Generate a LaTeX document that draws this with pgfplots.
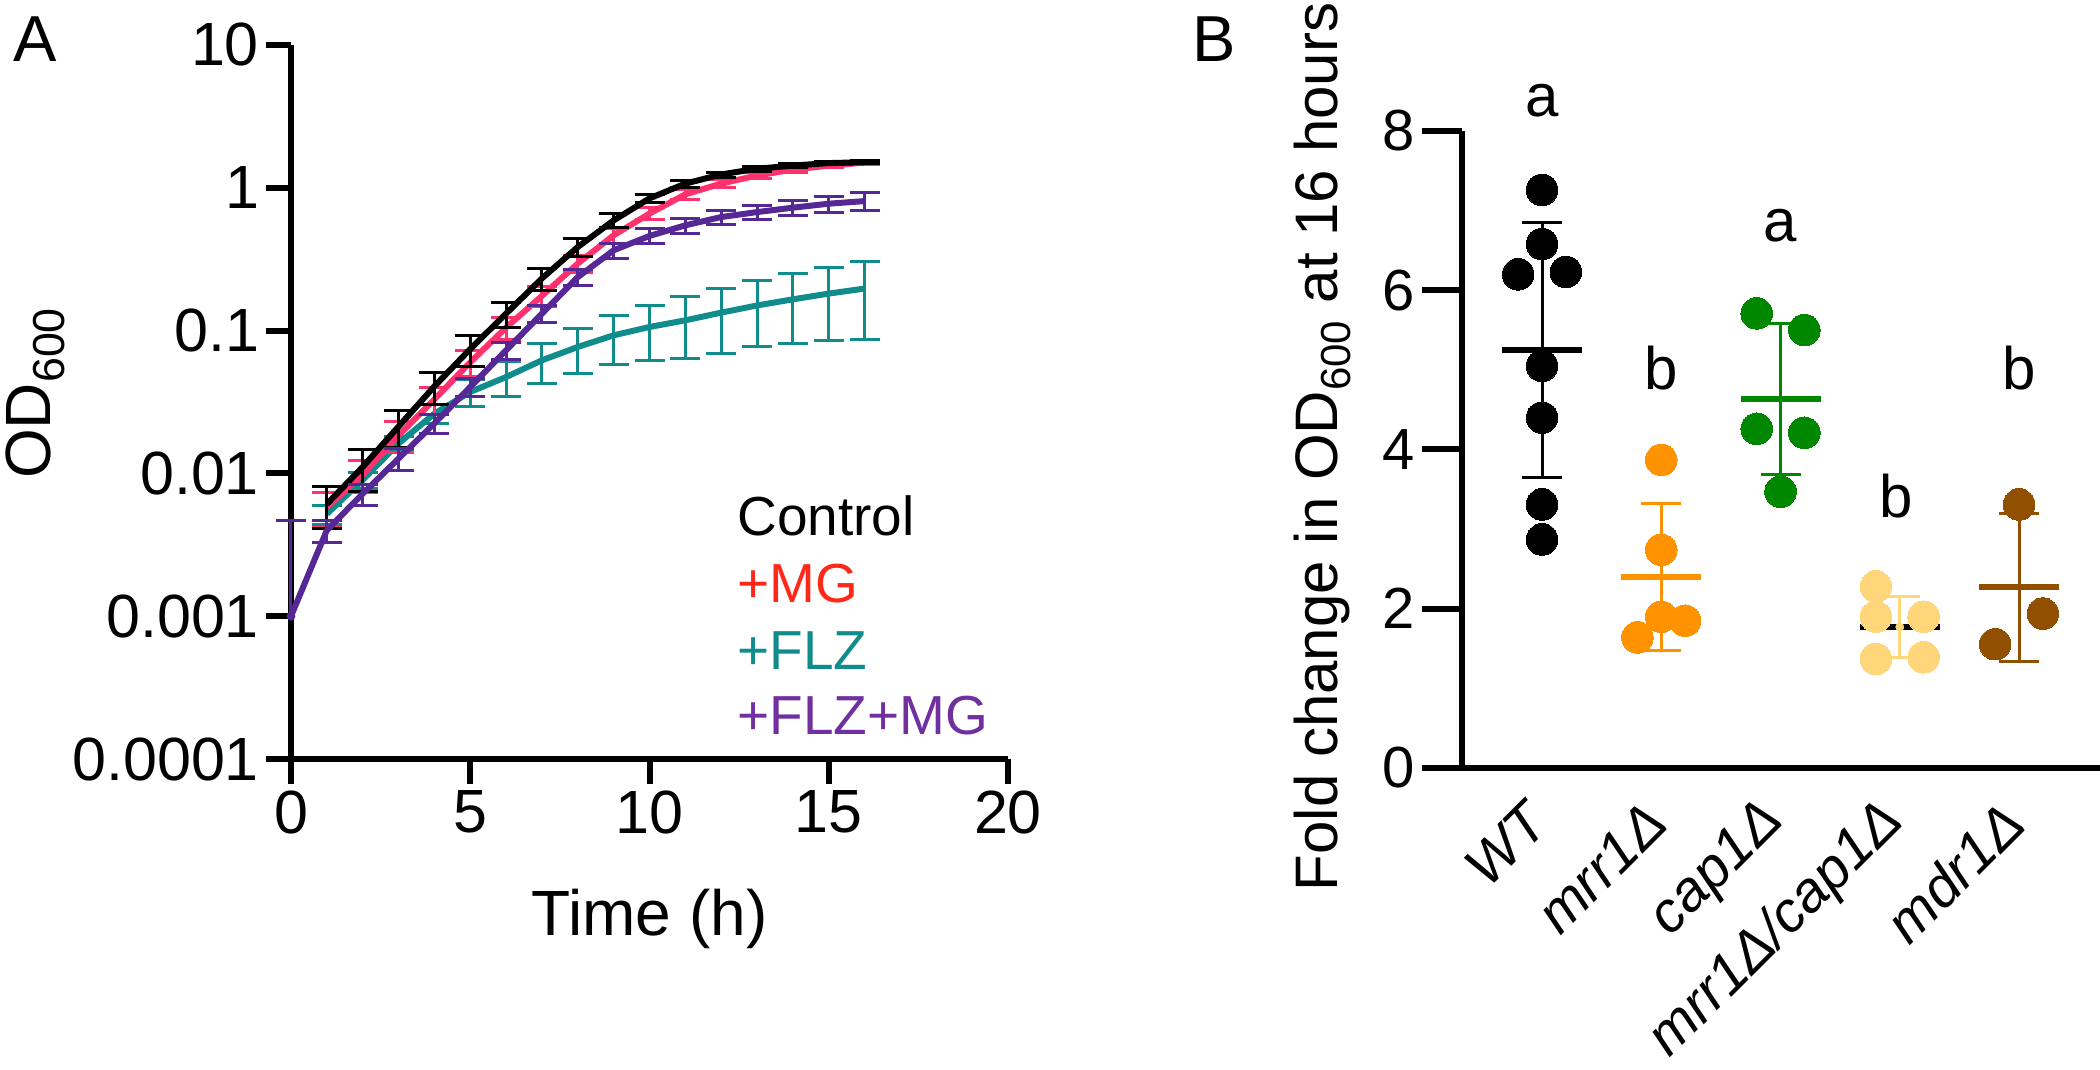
\documentclass[border=0pt]{standalone}
\usepackage{fontspec}
\setmainfont{Liberation Sans}
\usepackage{pgfplots}
\pgfplotsset{compat=1.18}
\usepackage{pgfplotstable}

\definecolor{cPink}{RGB}{255,50,110}
\definecolor{cRed}{RGB}{255,40,25}
\definecolor{cTeal}{RGB}{16,140,140}
\definecolor{cPurpL}{RGB}{85,40,150}
\definecolor{cPurpT}{RGB}{112,48,160}
\definecolor{cOrange}{RGB}{255,146,0}
\definecolor{cGreen}{RGB}{0,135,0}
\definecolor{cYellow}{RGB}{255,214,122}
\definecolor{cBrown}{RGB}{145,80,0}

% Control
\pgfplotstableread{
h y e
1 0.0061 0.0020
2 0.0111 0.0036
3 0.0213 0.0061
4 0.0407 0.0104
5 0.0743 0.018
6 0.1315 0.027
7 0.232 0.040
8 0.385 0.055
9 0.591 0.068
10 0.843 0.06
11 1.07 0.06
12 1.24 0.05
13 1.36 0.05
14 1.43 0.04
15 1.49 0.04
16 1.51 0.04
}\ctrl
% +MG
\pgfplotstableread{
h y e
1 0.0058 0.0016
2 0.0098 0.0025
3 0.0185 0.0045
4 0.033 0.007
5 0.060 0.012
6 0.105 0.018
7 0.175 0.028
8 0.295 0.040
9 0.465 0.055
10 0.66 0.065
11 0.90 0.07
12 1.07 0.07
13 1.22 0.06
14 1.34 0.05
15 1.43 0.05
16 1.50 0.04
}\mg
% +FLZ
\pgfplotstableread{
h y e
1 0.0052 0.0008
2 0.0090 0.0012
3 0.0162 0.002
4 0.0262 0.004
5 0.0372 0.008
6 0.0473 0.013
7 0.062 0.0195
8 0.0768 0.027
9 0.0927 0.035
10 0.106 0.044
11 0.118 0.054
12 0.1336 0.064
13 0.150 0.073
14 0.1656 0.085
15 0.1816 0.097
16 0.197 0.11
}\flz
% +FLZ+MG
\pgfplotstableread{
h y e
1 0.0040 0.0007
2 0.0072 0.0012
3 0.0127 0.0022
4 0.0224 0.0035
5 0.0403 0.006
6 0.0728 0.010
7 0.1315 0.018
8 0.237 0.030
9 0.365 0.045
10 0.46 0.055
11 0.546 0.065
12 0.624 0.075
13 0.676 0.08
14 0.726 0.09
15 0.774 0.10
16 0.807 0.115
}\flzmg

\pgfplotsset{
  ebar/.style={error bars/.cd, y dir=both, y explicit,
    error bar style={line width=1.5pt},
    error mark options={rotate=90, mark size=7.5pt, line width=1.5pt}},
  bbar/.style={error bars/.cd, y dir=both, y explicit,
    error bar style={line width=1.5pt},
    error mark options={rotate=90, mark size=10pt, line width=1.5pt}},
  meanmark/.style={only marks, mark=-, mark size=20pt, mark options={line width=3pt}},
  pts/.style={color=#1, only marks, mark=*, mark size=7.9pt, mark options={line width=0pt, draw=#1, fill=#1}},
}

\begin{document}
\begin{tikzpicture}
\path[use as bounding box] (0,0) rectangle (1050pt,535pt);

% ---------------- Panel A ----------------
\begin{axis}[
  at={(145.5pt,155.5pt)}, anchor=south west,
  scale only axis, width=358.5pt, height=357pt,
  xmin=0, xmax=20, ymode=log, ymin=1e-4, ymax=10,
  axis x line=bottom, axis y line=left,
  axis line style={-, line width=3pt},
  tick align=outside, major tick length=12.5pt,
  tick style={line width=3pt, black},
  xtick={0,5,10,15,20}, xticklabels={0,5,10,15,20},
  ytick={1e-4,1e-3,1e-2,1e-1,1,10},
  yticklabels={0.0001,0.001,0.01,0.1,1,10},
  yminorticks=false,
  ticklabel style={font=\fontsize{30.5}{36}\selectfont},
  xlabel={Time (h)}, ylabel={OD\textsubscript{600}},
  label style={font=\fontsize{32}{38}\selectfont},
  xlabel style={at={(axis description cs:0.5,-0.2465)}, anchor=base},
  ylabel style={at={(axis description cs:-0.336,0.5126)}, anchor=base},
  clip=false,
]
\addplot[cTeal, line width=3pt, line join=round, ebar] table[x=h, y=y, y error=e] {\flz};
\addplot[cPink, line width=3pt, line join=round, ebar] table[x=h, y=y, y error=e] {\mg};
\addplot[black, line width=3pt, line join=round, ebar] table[x=h, y=y, y error=e] {\ctrl};
\addplot[cPurpL, line width=3pt, line join=round, ebar] table[x=h, y=y, y error=e] {\flzmg};
\addplot[cPurpL, line width=3pt] coordinates {(0,0.001) (1,0.0040)};
\addplot[cPurpL, only marks, mark=none, error bars/.cd, y dir=plus, y explicit,
    error bar style={line width=1.5pt},
    error mark options={rotate=90, mark size=7.5pt, line width=1.5pt}]
  coordinates {(0,0.001) +- (0,0.0037)};
\end{axis}

\node[anchor=base west, inner sep=0pt, font=\fontsize{32.5}{39}\selectfont] at (6.5pt,504pt) {A};
\node[anchor=base west, inner sep=0pt, font=\fontsize{27.5}{33}\selectfont] at (368.5pt,267pt) {Control};
\node[anchor=base west, inner sep=0pt, font=\fontsize{27.5}{33}\selectfont, text=cRed] at (368.5pt,233.8pt) {+MG};
\node[anchor=base west, inner sep=0pt, font=\fontsize{27.5}{33}\selectfont, text=cTeal] at (368.5pt,200.2pt) {+FLZ};
\node[anchor=base west, inner sep=0pt, font=\fontsize{27.5}{33}\selectfont, text=cPurpT] at (368.5pt,167.5pt) {+FLZ+MG};

% ---------------- Panel B ----------------
\begin{axis}[
  at={(731pt,151pt)}, anchor=south west,
  scale only axis, width=319pt, height=318.5pt,
  xmin=-0.671, xmax=4.679, ymin=0, ymax=8,
  axis x line=bottom, axis y line=left,
  axis line style={-, line width=3pt},
  tick align=outside, major tick length=20pt,
  tick style={line width=3pt, black},
  ytick={0,2,4,6,8}, yticklabels={0,2,4,6,8},
  xtick={0,1,2,3,4},
  xticklabels={WT,mrr1Δ,cap1Δ,mrr1Δ/cap1Δ,mdr1Δ},
  major x tick style={draw=none},
  yticklabel style={font=\fontsize{29}{35}\selectfont},
  xticklabel style={rotate=45, anchor=east, font=\itshape\fontsize{28.5}{34}\selectfont},
  ylabel={Fold change in OD\textsubscript{600} at 16 hours},
  ylabel style={at={(axis description cs:-0.1944,0.504)}, anchor=base, font=\fontsize{30}{36}\selectfont},
  clip=false,
]
% WT
\addplot[black, meanmark, bbar] coordinates {(0,5.245) +- (0,1.60)};
\addplot[pts=black] coordinates {(0,7.26) (0,6.58) (-0.2,6.20) (0.2,6.23) (0,5.05) (0,4.40) (0,3.31) (0,2.87)};
% mrr1
\addplot[cOrange, meanmark, bbar] coordinates {(1,2.40) +- (0,0.92)};
\addplot[pts=cOrange] coordinates {(1,3.87) (1,2.74) (1,1.90) (1.2,1.85) (0.8,1.64)};
% cap1
\addplot[cGreen, meanmark, bbar] coordinates {(2,4.63) +- (0,0.95)};
\addplot[pts=cGreen] coordinates {(1.8,5.71) (2.2,5.50) (1.8,4.26) (2.2,4.21) (2,3.47)};
% double
\addplot[black, meanmark] coordinates {(3,1.77)};
\addplot[cYellow, only marks, mark=none, bbar] coordinates {(3,1.77) +- (0,0.385)};
\addplot[pts=cYellow] coordinates {(2.8,2.28) (2.8,1.90) (3.2,1.90) (2.8,1.37) (3.2,1.39)};
% mdr1
\addplot[cBrown, meanmark, bbar] coordinates {(4,2.27) +- (0,0.93)};
\addplot[pts=cBrown] coordinates {(4,3.31) (4.2,1.94) (3.8,1.555)};

\node[anchor=base, font=\fontsize{30}{36}\selectfont] at (axis cs:0,8.18) {a};
\node[anchor=base, font=\fontsize{30}{36}\selectfont] at (axis cs:1,4.75) {b};
\node[anchor=base, font=\fontsize{30}{36}\selectfont] at (axis cs:2,6.61) {a};
\node[anchor=base, font=\fontsize{30}{36}\selectfont] at (axis cs:2.97,3.14) {b};
\node[anchor=base, font=\fontsize{30}{36}\selectfont] at (axis cs:4,4.75) {b};
\end{axis}

\node[anchor=base west, inner sep=0pt, font=\fontsize{32.5}{39}\selectfont] at (596pt,504pt) {B};
\end{tikzpicture}
\end{document}
